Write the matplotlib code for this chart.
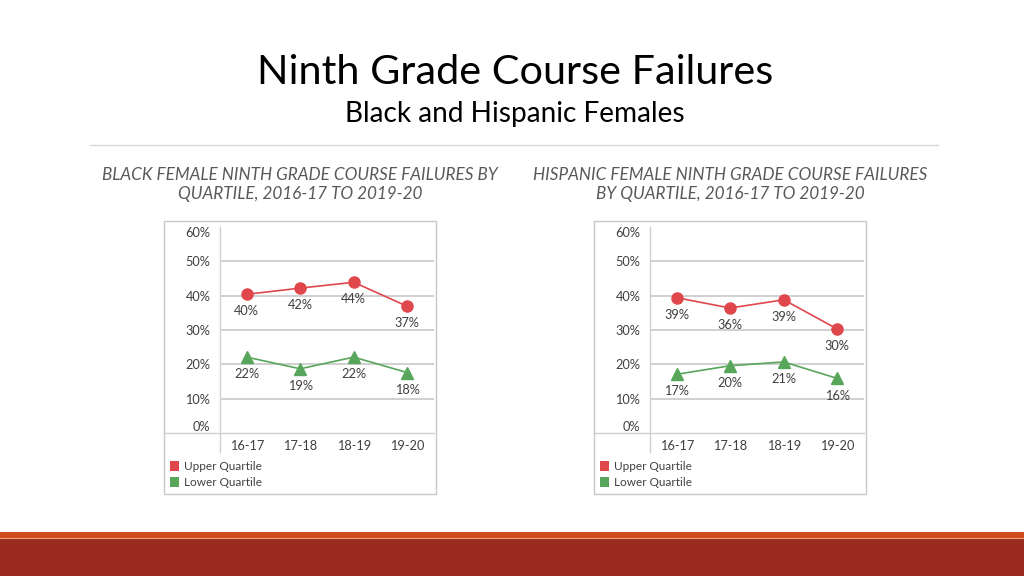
import matplotlib
matplotlib.use('Agg')
import matplotlib.pyplot as plt
from matplotlib.patches import Rectangle
from matplotlib.lines import Line2D

plt.rcParams['font.family'] = ['Lato', 'DejaVu Sans']

# data
years = ['16-17', '17-18', '18-19', '19-20']
black_upper = [40.4, 42.2, 43.9, 36.9]
black_lower = [22.1, 18.7, 22.1, 17.6]
hisp_upper = [39.4, 36.4, 38.8, 30.3]
hisp_lower = [17.1, 19.6, 20.7, 15.9]
yticks = [0, 10, 20, 30, 40, 50, 60]
series_names = ['Upper Quartile', 'Lower Quartile']

RED = '#E0474C'
GREEN = '#58A55C'
GRID = '#D0D0D0'
TXT = '#404040'

W, H = 1024, 576
fig = plt.figure(figsize=(W / 100, H / 100), dpi=100)


def fx(x):
    return x / W


def fy(y):
    return 1 - y / H


# titles
fig.text(fx(515), fy(73), 'Ninth Grade Course Failures', ha='center', va='center',
         fontsize=29.8, color='black')
fig.text(fx(515), fy(114), 'Black and Hispanic Females', ha='center', va='center',
         fontsize=20.2, color='black')
fig.add_artist(Line2D([fx(90), fx(938)], [fy(145), fy(145)], color='#D9D9D9', lw=1))

# bottom band
fig.add_artist(Rectangle((0, 0), 1, fy(532), color='#D04A1C', lw=0))
fig.add_artist(Rectangle((0, 0), 1, fy(538), color='#9B2B20', lw=0))
fig.add_artist(Line2D([0, 1], [fy(537.5), fy(537.5)], color='#F0A070', lw=0.8))


def draw_chart(x0, title, upper, lower):
    # subtitle
    fig.text(fx(x0 + 136), fy(184.5), title, ha='center', va='center', fontsize=12.3,
             style='italic', color='#595959', linespacing=1.25)
    # box
    fig.add_artist(Rectangle((fx(x0), fy(494)), fx(272), fy(221) - fy(494),
                             facecolor='white', edgecolor='#C8C8C8', lw=1, zorder=-1))
    ax = fig.add_axes([fx(x0 + 56), fy(433), fx(214), fy(227) - fy(433)])
    ax.patch.set_visible(False)
    ax.set_xlim(-0.5, 3.5)
    ax.set_ylim(0, 60)
    for s in ax.spines.values():
        s.set_visible(False)
    for t in yticks[1:-1]:
        ax.axhline(t, color=GRID, lw=1.4, zorder=0)
    # axis lines
    ax.plot([0, 0], [1, -0.09], transform=ax.transAxes, color=GRID, lw=1, clip_on=False)
    ax.plot([-0.26, 1.0], [0, 0], transform=ax.transAxes, color=GRID, lw=1, clip_on=False)
    ax.set_yticks(yticks)
    ax.set_yticklabels([f'{t}%' for t in yticks])
    ax.set_xticks(range(len(years)))
    ax.set_xticklabels(years)
    ax.tick_params(length=0, labelsize=9.2, labelcolor=TXT, pad=7)
    ax.tick_params(axis='x', pad=5)
    ylabs = ax.get_yticklabels()
    ylabs[0].set_va('bottom')
    ylabs[-1].set_va('top')
    x = list(range(len(years)))
    ax.plot(x, upper, color=RED, lw=1.2, marker='o', ms=8, clip_on=False, zorder=3)
    ax.plot(x, lower, color=GREEN, lw=1.2, marker='^', ms=8, clip_on=False, zorder=3)
    for vals in (upper, lower):
        for xi, v in zip(x, vals):
            ax.annotate(f'{round(v)}%', (xi, v), xytext=(0, -8), textcoords='offset points',
                        ha='center', va='top', fontsize=9.2, color=TXT)
    # legend
    for i, (name, c) in enumerate(zip(series_names, [RED, GREEN])):
        yy = 466 + i * 16
        fig.add_artist(Rectangle((fx(x0 + 6), fy(yy + 5)), fx(9), fy(yy - 5) - fy(yy + 5),
                                 color=c, lw=0))
        fig.text(fx(x0 + 20), fy(yy), name, ha='left', va='center', fontsize=8.5, color=TXT)
    return ax


draw_chart(164, 'BLACK FEMALE NINTH GRADE COURSE FAILURES BY\nQUARTILE, 2016-17 TO 2019-20',
           black_upper, black_lower)
draw_chart(594, 'HISPANIC FEMALE NINTH GRADE COURSE FAILURES\nBY QUARTILE, 2016-17 TO 2019-20',
           hisp_upper, hisp_lower)

fig.savefig('out.png', dpi=100)
